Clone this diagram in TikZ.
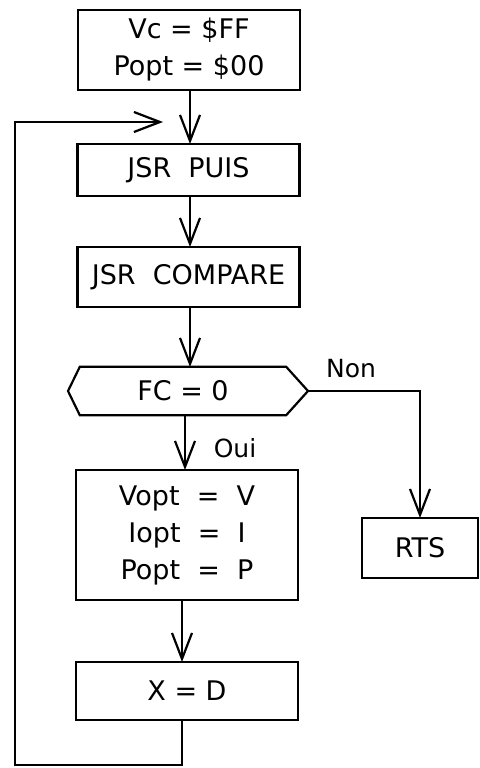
\documentclass[tikz,border=0pt]{standalone}
\usepackage{fontspec}
\setmainfont{DejaVu Sans}
\usetikzlibrary{arrows.meta,calc}
\begin{document}
\begin{tikzpicture}[x=1pt,y=-1pt,
  box/.style={draw,line width=2.2pt,minimum width=222pt,inner sep=0pt,
    font=\fontsize{27}{37}\selectfont,align=center},
  arr/.style={line width=2.2pt,-{Straight Barb[length=26pt,width=20pt,line width=2.2pt]}},
  plain/.style={line width=2.2pt},
  lbl/.style={font=\fontsize{25}{30}\selectfont,inner sep=0pt}]
\useasboundingbox (0,0) rectangle (479,768);
% boxes
\node[box,minimum height=80pt] (b1) at (189,50) {Vc = \$FF\\Popt = \$00};
\node[box,minimum height=52pt] (b2) at (188.5,170) {JSR\ \ PUIS};
\node[box,minimum height=60pt] (b3) at (188.5,277) {JSR\ \ COMPARE};
\node[inner sep=0pt,minimum width=206pt,minimum height=48pt,font=\fontsize{27}{37}\selectfont] (hex) at (183,391) {FC = 0};
\coordinate (hexL) at (68,391);
\coordinate (hexR) at (308,391);
\draw[plain,line join=miter] (hex.north west) -- (hex.north east) -- (hexR) -- (hex.south east)
  -- (hex.south west) -- (hexL) -- cycle;
\node[box,minimum height=130pt] (b4) at (187,535) {Vopt\ \ =\ \ V\\Iopt\ \ =\ \ I\\Popt\ \ =\ \ P};
\node[box,minimum height=58pt] (b5) at (187,691) {X = D};
\node[box,minimum width=116pt,minimum height=60pt] (rts) at (420,548) {RTS};
% labels
\node[lbl] (non) at (351,369) {Non};
\node[lbl] (oui) at (235,448) {Oui};
% connectors
\draw[arr] (190,90) -- (190,144);
\draw[arr] (190,196) -- (190,247);
\draw[arr] (190,307) -- (190,367);
\draw[arr] (185,415) -- (185,470);
\draw[arr] (182,600) -- (182,662);
\coordinate (rtsTop) at (420,518);
\draw[arr] (hexR) -| (rtsTop);
\coordinate (loopA) at (182,765);
\coordinate (loopB) at (15,765);
\coordinate (loopC) at (15,122);
\coordinate (loopEnd) at (163,122);
\draw[arr] (b5.south -| loopA) -- (loopA) -- (loopB) -- (loopC) -- (loopEnd);
\end{tikzpicture}
\end{document}
